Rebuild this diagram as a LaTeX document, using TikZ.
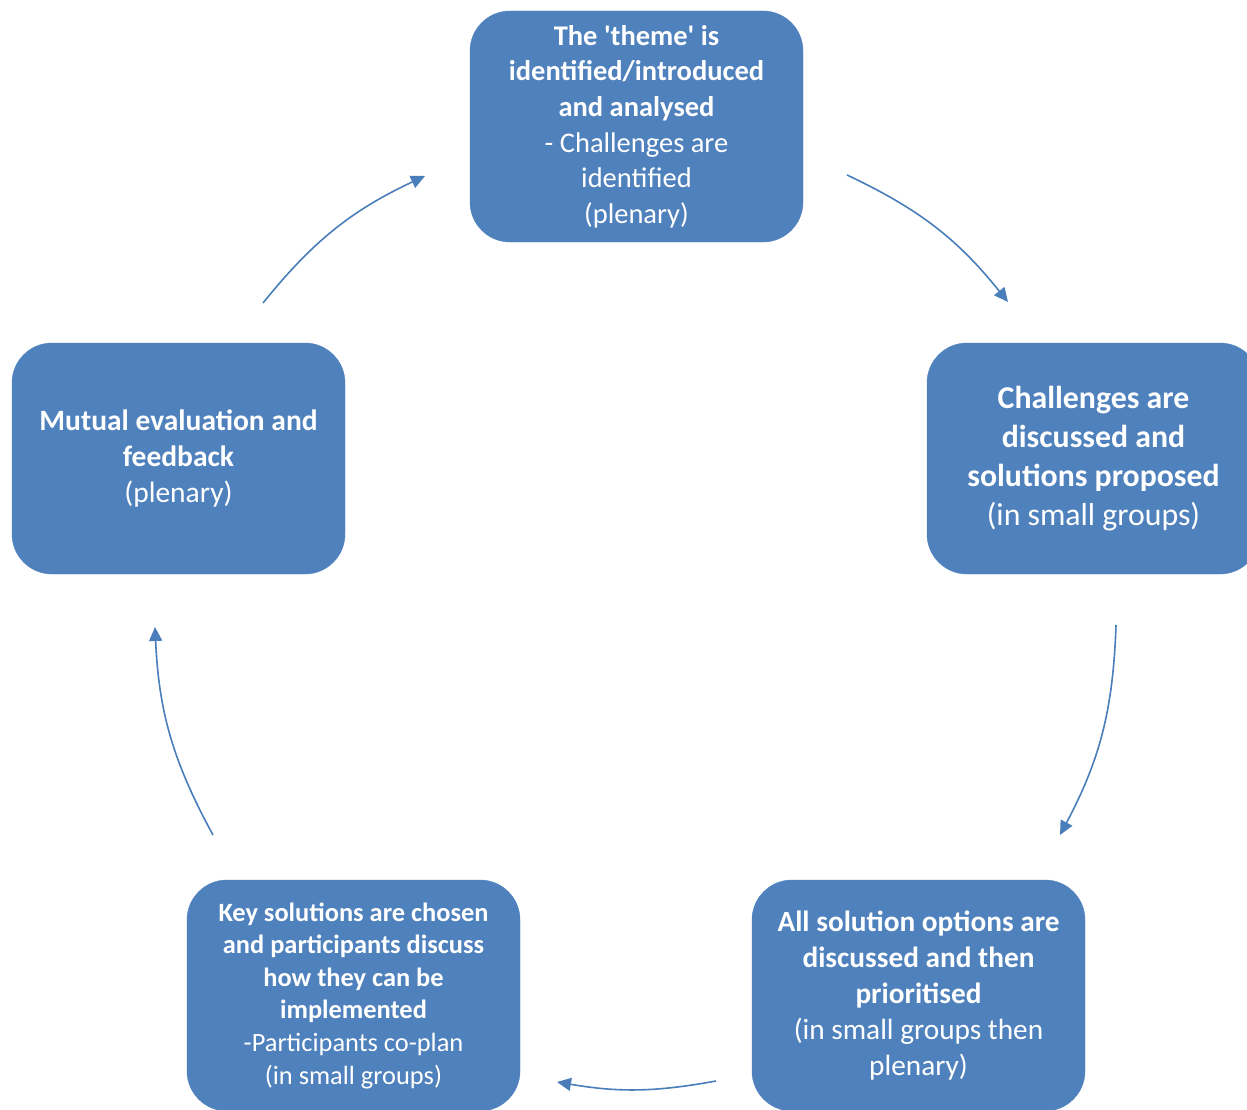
\documentclass[tikz,border=0pt]{standalone}
\usepackage{fontspec}
\setmainfont{Carlito}
\usetikzlibrary{arrows.meta}
\definecolor{boxblue}{HTML}{4F81BD}
\definecolor{arrowblue}{HTML}{4A7EBB}
\begin{document}
\begin{tikzpicture}[x=1pt,y=-1pt,
  stage/.style={fill=boxblue, draw=boxblue, rounded corners=40pt, minimum width=333pt, minimum height=231pt, text=white, align=center, inner sep=0pt},
  cycarrow/.style={draw=arrowblue, line width=1.6pt, -{Triangle[length=14pt,width=13pt]}}]
\useasboundingbox (0,0) rectangle (1247,1110);
\begin{scope}
\clip (0,0) rectangle (1247,1110);
\node[stage, font=\fontsize{28.5}{35.6}\selectfont] (top) at (636.5,126.5)
  {\textbf{The \textquotesingle theme\textquotesingle{} is}\\ \textbf{identified/introduced}\\ \textbf{and analysed}\\ - Challenges are\\ identified\\ (plenary)};
\node[stage, font=\fontsize{31.8}{39}\selectfont] (right) at (1093.5,458.5)
  {\textbf{Challenges are}\\ \textbf{discussed and}\\ \textbf{solutions proposed}\\ (in small groups)};
\node[stage, font=\fontsize{29.3}{36}\selectfont] (botright) at (918.5,995.5)
  {\textbf{All solution options are}\\ \textbf{discussed and then}\\ \textbf{prioritised}\\ (in small groups then\\ plenary)};
\node[stage, font=\fontsize{26.4}{32.6}\selectfont] (botleft) at (353.5,995.5)
  {\textbf{Key solutions are chosen}\\ \textbf{and participants discuss}\\ \textbf{how they can be}\\ \textbf{implemented}\\ -Participants co-plan\\ (in small groups)};
\node[stage, font=\fontsize{29.5}{36}\selectfont] (left) at (178.5,458.5)
  {\textbf{Mutual evaluation and}\\ \textbf{feedback}\\ (plenary)};
\end{scope}
\coordinate (a1s) at (263,303);
\coordinate (a1e) at (425,176);
\coordinate (a2s) at (847,175);
\coordinate (a2e) at (1008,302);
\coordinate (a3s) at (1116,625);
\coordinate (a3e) at (1060,835);
\coordinate (a4s) at (716,1081);
\coordinate (a4e) at (557,1082);
\coordinate (a5s) at (213,835);
\coordinate (a5e) at (155,627);
\draw[cycarrow] (a1s) to[bend left=13] (a1e);
\draw[cycarrow] (a2s) to[bend left=13] (a2e);
\draw[cycarrow] (a3s) to[bend left=13] (a3e);
\draw[cycarrow] (a4s) to[bend left=10] (a4e);
\draw[cycarrow] (a5s) to[bend left=13] (a5e);
\end{tikzpicture}
\end{document}
